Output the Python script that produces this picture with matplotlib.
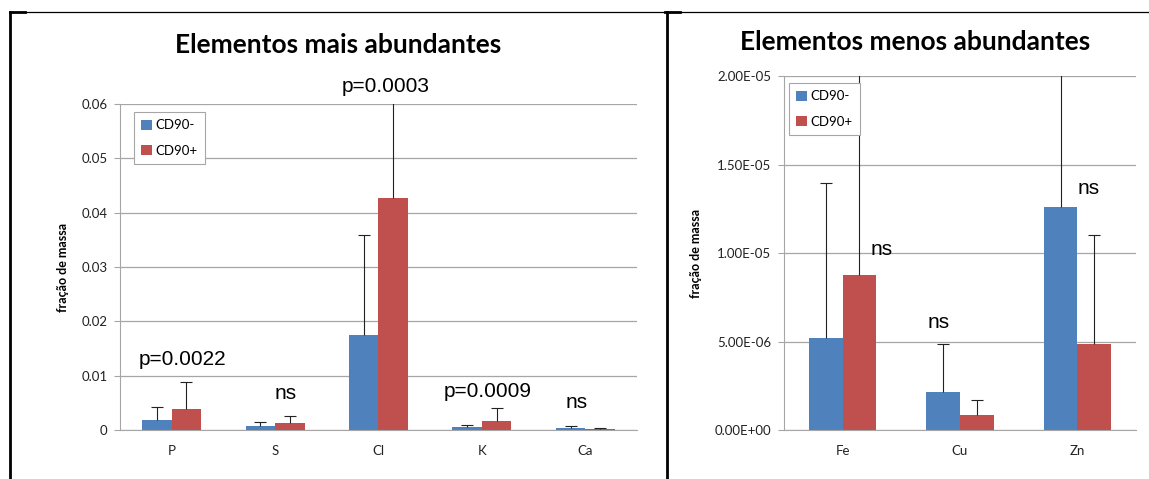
import numpy as np
import matplotlib.pyplot as plt
from matplotlib.lines import Line2D
from matplotlib.ticker import FuncFormatter

# data
major_elements = ['P', 'S', 'Cl', 'K', 'Ca']
major_neg = [0.0018, 0.0007, 0.0175, 0.0006, 0.0003]
major_neg_err = [0.0024, 0.0007, 0.0184, 0.0004, 0.0005]
major_pos = [0.0039, 0.0012, 0.0427, 0.0017, 0.0001]
major_pos_err = [0.0050, 0.0013, 0.0300, 0.0023, 0.0002]
major_pvals = ['p=0.0022', 'ns', 'p=0.0003', 'p=0.0009', 'ns']

minor_elements = ['Fe', 'Cu', 'Zn']
minor_neg = [5.21e-6, 2.16e-6, 12.58e-6]
minor_neg_err = [8.74e-6, 2.72e-6, 10.0e-6]
minor_pos = [8.76e-6, 0.85e-6, 4.88e-6]
minor_pos_err = [14.0e-6, 0.85e-6, 6.12e-6]
minor_pvals = ['ns', 'ns', 'ns']

blue = '#4F81BD'
red = '#C0504D'
grid_col = '#A6A6A6'
calibri = ['Lato', 'DejaVu Sans']
arial = ['Liberation Sans', 'DejaVu Sans']

fig = plt.figure(figsize=(11.49, 4.79), dpi=100)


def upper_errorbar(ax, xs, ys, errs):
    eb = ax.errorbar(xs, ys, yerr=[np.zeros(len(xs)), errs], fmt='none',
                     ecolor='#222222', elinewidth=0.8, capsize=4, capthick=0.8, zorder=3)
    # hide the lower caps (sitting on top of the bars)
    eb[1][0].set_visible(False)


def draw_panel(ax, cats, neg, neg_err, pos, pos_err, ymax):
    x = np.arange(len(cats))
    w = 1 / 3.5
    ax.bar(x - w / 2, neg, w, color=blue, label='CD90-', zorder=2)
    ax.bar(x + w / 2, pos, w, color=red, label='CD90+', zorder=2)
    upper_errorbar(ax, x - w / 2, neg, neg_err)
    upper_errorbar(ax, x + w / 2, pos, pos_err)
    ax.set_xlim(-0.5, len(cats) - 0.5)
    ax.set_ylim(0, ymax)
    ax.set_xticks(x)
    ax.set_xticklabels(cats, family=calibri, fontsize=9.5, color='#222222')
    ax.tick_params(axis='x', length=0, pad=11)
    ax.tick_params(axis='y', length=4, color=grid_col, labelsize=9.5, labelcolor='#222222', pad=5)
    for lab in ax.get_yticklabels():
        lab.set_family(calibri)
    ax.grid(axis='y', color=grid_col, linewidth=0.9, zorder=0)
    for s in ['top', 'right']:
        ax.spines[s].set_visible(False)
    ax.spines['left'].set_color(grid_col)
    ax.spines['bottom'].set_color(grid_col)
    ax.set_ylabel('fração de massa', family=calibri, fontsize=9, fontweight='bold', labelpad=9)
    leg = ax.legend(loc='upper left', frameon=True, fancybox=False, edgecolor=grid_col,
                    handlelength=0.8, handleheight=0.8, handletextpad=0.3,
                    labelspacing=1.0, borderpad=0.55, borderaxespad=0, framealpha=1,
                    prop={'family': calibri, 'size': 9.5})
    leg.get_frame().set_linewidth(0.8)
    return leg


ax1 = fig.add_axes([0.1044, 0.1023, 0.45, 0.6806])
leg1 = draw_panel(ax1, major_elements, major_neg, major_neg_err, major_pos, major_pos_err, 0.06)
leg1.set_bbox_to_anchor((0.027, 0.975))
ax1.set_yticks([0, 0.01, 0.02, 0.03, 0.04, 0.05, 0.06])
ax1.yaxis.set_major_formatter(FuncFormatter(lambda v, p: '0' if v == 0 else f'{v:.2f}'))

major_pos_lbl = [(0.1, 0.0129), (1.1, 0.0068), (2.07, 0.0632), (3.06, 0.0071), (3.92, 0.0050)]
for (px, py), t in zip(major_pos_lbl, major_pvals):
    ax1.text(px, py, t, family=arial, fontsize=15, ha='center', va='center', clip_on=False)

ax2 = fig.add_axes([0.6823, 0.1023, 0.3064, 0.739])
leg2 = draw_panel(ax2, minor_elements, minor_neg, minor_neg_err, minor_pos, minor_pos_err, 2e-5)
leg2.set_bbox_to_anchor((0.014, 0.98))
ax2.set_yticks([0, 5e-6, 1e-5, 1.5e-5, 2e-5])
ax2.yaxis.set_major_formatter(FuncFormatter(lambda v, p: f'{v:.2E}'))

minor_pos_lbl = [(0.33, 10.17e-6), (0.82, 6.05e-6), (2.1, 13.67e-6)]
for (px, py), t in zip(minor_pos_lbl, minor_pvals):
    ax2.text(px, py, t, family=arial, fontsize=15, ha='center', va='center', clip_on=False)

W, H = 1149, 479

# chart titles (figure pixels)
fig.text(338 / W, 1 - 45 / H, 'Elementos mais abundantes', family=calibri, fontsize=19,
         fontweight='bold', ha='center', va='center')
fig.text(915 / W, 1 - 42 / H, 'Elementos menos abundantes', family=calibri, fontsize=19,
         fontweight='bold', ha='center', va='center')


# table-like border lines around the two panels
def fline(x0, y0, x1, y1, lw):
    fig.add_artist(Line2D([x0 / W, x1 / W], [1 - y0 / H, 1 - y1 / H],
                          color='black', linewidth=lw, transform=fig.transFigure))


fline(10, 12, 1149, 12, 0.9)
fline(10, 12, 25, 12, 2)
fline(665, 12, 680, 12, 2)
fline(10, 12, 10, 479, 2)
fline(667, 12, 667, 479, 2)

fig.savefig('out.png', dpi=100)
